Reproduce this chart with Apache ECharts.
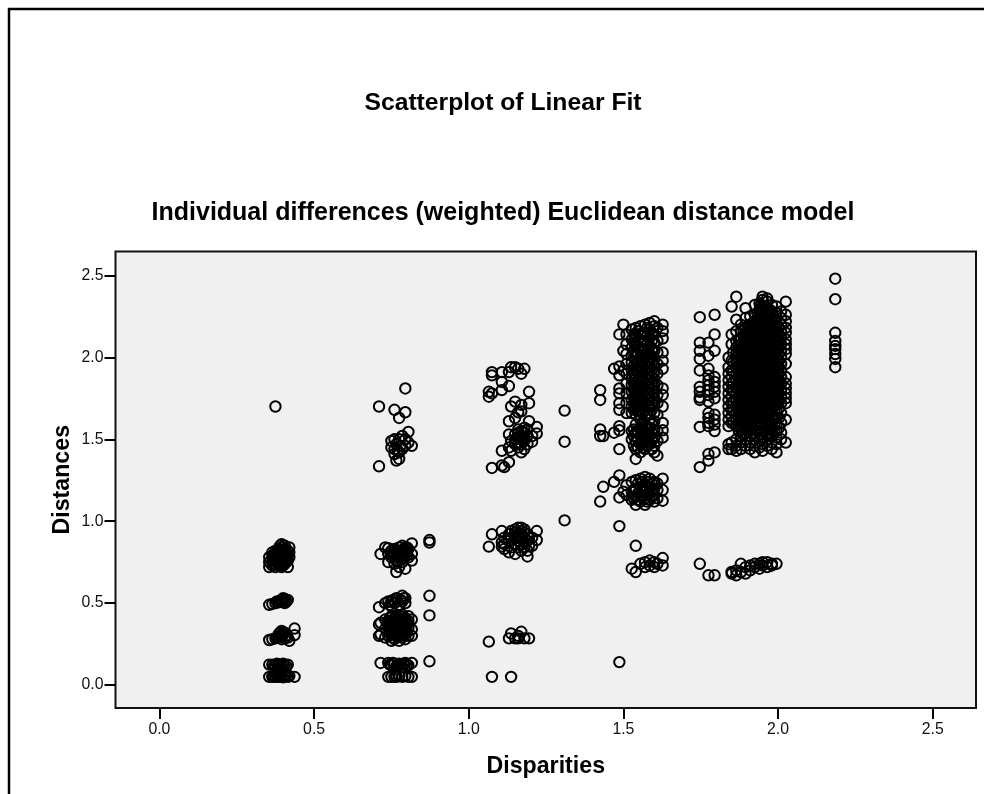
<!DOCTYPE html>
<html><head><meta charset="utf-8">
<script src="https://cdn.jsdelivr.net/npm/echarts@6/dist/echarts.min.js"></script>
<style>html,body{margin:0;padding:0;background:#fff}#c{width:984px;height:794px}</style>
</head><body><div id="c"></div>
<script>
const chartTitle = 'Scatterplot of Linear Fit';
const chartSubtitle = 'Individual differences (weighted) Euclidean distance model';
const xName = 'Disparities';
const yName = 'Distances';
const tickValues = [0, 0.5, 1, 1.5, 2, 2.5];

// each row: [disparity, [distances...]]
const groupA = [
 [0.355,[0.05,0.125,0.275,0.49,0.72,0.75,0.78]],
 [0.365,[0.05,0.125,0.28,0.495,0.73,0.76,0.79,0.81]],
 [0.375,[0.05,0.12,0.285,0.50,0.72,0.75,0.78,0.80,0.82,1.70]],
 [0.385,[0.05,0.125,0.29,0.31,0.505,0.73,0.77,0.80,0.83]],
 [0.395,[0.05,0.12,0.28,0.30,0.33,0.51,0.52,0.72,0.75,0.78,0.81,0.84,0.86]],
 [0.405,[0.055,0.125,0.285,0.32,0.50,0.525,0.74,0.77,0.80,0.83,0.85]],
 [0.415,[0.05,0.125,0.29,0.52,0.72,0.76,0.79,0.82]],
 [0.42,[0.055,0.27,0.78,0.81,0.84]],
 [0.437,[0.05,0.305,0.345]],
 [0.37,[0.052,0.118,0.74,0.77,0.795]],
 [0.38,[0.055,0.13,0.29,0.51,0.745,0.765,0.81]],
 [0.39,[0.058,0.115,0.30,0.32,0.515,0.74,0.76,0.79,0.82,0.85]],
 [0.40,[0.047,0.13,0.31,0.53,0.73,0.76,0.795,0.825]],
 [0.41,[0.06,0.115,0.30,0.51,0.75,0.78,0.81]]
];
const groupB = [
 [0.71,[0.30,0.37,0.475,1.335,1.70]],
 [0.715,[0.135,0.31,0.38,0.80]],
 [0.73,[0.29,0.345,0.40,0.50,0.84]],
 [0.74,[0.135,0.05,0.30,0.36,0.39,0.51,0.75,0.80,0.835]],
 [0.75,[0.05,0.12,0.27,0.31,0.35,0.38,0.42,0.48,0.51,0.78,0.82,1.45,1.49]],
 [0.76,[0.05,0.13,0.28,0.33,0.37,0.40,0.50,0.74,0.80,0.83,1.41,1.44,1.50,1.68]],
 [0.766,[0.05,0.115,0.30,0.35,0.39,0.42,0.53,0.69,0.76,0.81,1.37,1.47]],
 [0.775,[0.055,0.13,0.27,0.32,0.36,0.41,0.49,0.72,0.78,0.84,1.38,1.42,1.50,1.63]],
 [0.785,[0.05,0.11,0.29,0.34,0.38,0.43,0.51,0.545,0.75,0.80,0.85,1.44,1.52]],
 [0.795,[0.055,0.135,0.28,0.33,0.37,0.41,0.50,0.53,0.71,0.82,0.84,1.46,1.50,1.665,1.81]],
 [0.805,[0.05,0.12,0.30,0.35,0.39,0.42,0.78,0.83,1.545,1.48]],
 [0.816,[0.05,0.135,0.30,0.34,0.40,0.76,0.80,0.865,1.46]],
 [0.873,[0.145,0.425,0.545,0.87,0.885]],
 [0.745,[0.125,0.33,0.37,0.41,0.49]],
 [0.755,[0.135,0.29,0.32,0.36,0.40,0.52,0.79,0.81]],
 [0.77,[0.12,0.31,0.34,0.38,0.40,0.82,0.80,1.43]],
 [0.78,[0.125,0.30,0.33,0.35,0.39,0.42,0.52,0.79,0.82,1.46]],
 [0.79,[0.13,0.31,0.35,0.37,0.40,0.53,0.78,0.81,0.83]],
 [0.80,[0.125,0.32,0.36,0.38,0.79,0.81,0.84]]
];
const groupC = [
 [1.065,[0.265,0.845,1.79,1.76]],
 [1.075,[0.05,0.92,1.325,1.78,1.89,1.91]],
 [1.107,[0.845,0.87,0.94,1.34,1.43,1.80,1.85,1.91]],
 [1.115,[0.83,0.86,0.90,1.33]],
 [1.13,[0.285,0.81,0.88,0.92,1.36,1.45,1.53,1.61,1.825,1.91]],
 [1.137,[0.05,0.315,0.84,0.90,0.94,1.43,1.49,1.70,1.94]],
 [1.15,[0.285,0.80,0.86,0.90,0.93,0.95,1.47,1.50,1.53,1.63,1.73,1.94]],
 [1.16,[0.285,0.30,0.84,0.88,0.92,0.96,1.45,1.48,1.51,1.54,1.56,1.665,1.93]],
 [1.17,[0.325,0.82,0.86,0.89,0.91,0.94,0.96,1.42,1.47,1.50,1.52,1.55,1.67,1.71,1.90]],
 [1.18,[0.285,0.84,0.87,0.90,0.93,0.95,1.44,1.49,1.51,1.54,1.57,1.93]],
 [1.19,[0.785,0.82,0.88,0.92,1.47,1.52,1.56]],
 [1.195,[0.285,0.85,0.90,1.61,1.72,1.79]],
 [1.205,[0.85,0.90,1.485,1.52]],
 [1.22,[0.885,0.94,1.535,1.575]],
 [1.31,[1.005,1.485,1.675]]
];
const groupD = [
 [1.425,[1.12,1.56,1.74,1.80,1.52]],
 [1.435,[1.21,1.52]],
 [1.47,[1.24,1.54,1.93]],
 [1.487,[0.14,0.97,1.145,1.28,1.44,1.555,1.58,1.68,1.72,1.78,1.81,1.89,1.945,2.14]],
 [1.50,[1.18,1.92,2.04,2.20]],
 [1.51,[1.16,1.22,1.66,1.72,1.78,1.84,1.90,1.96,2.02,2.08,2.14]],
 [1.527,[0.71,1.13,1.18,1.24,1.50,1.55,1.66,1.70,1.74,1.79,1.83,1.87,1.92,1.97,2.01,2.06,2.11,2.17]],
 [1.54,[0.69,0.85,1.10,1.15,1.20,1.25,1.38,1.44,1.49,1.54,1.59,1.65,1.69,1.73,1.77,1.81,1.85,1.89,1.93,1.98,2.03,2.08,2.13,2.18]],
 [1.555,[0.74,1.12,1.16,1.21,1.26,1.42,1.47,1.52,1.57,1.62,1.67,1.71,1.75,1.79,1.83,1.87,1.91,1.95,1.99,2.04,2.09,2.14,2.19]],
 [1.57,[0.72,0.75,1.10,1.14,1.18,1.22,1.27,1.44,1.49,1.54,1.59,1.64,1.68,1.72,1.76,1.80,1.84,1.88,1.92,1.96,2.00,2.05,2.10,2.15,2.20]],
 [1.585,[0.73,0.76,1.13,1.17,1.21,1.26,1.47,1.52,1.57,1.62,1.66,1.70,1.74,1.78,1.82,1.86,1.90,1.94,1.98,2.02,2.07,2.12,2.17,2.21]],
 [1.60,[0.72,0.75,1.12,1.16,1.20,1.24,1.42,1.46,1.51,1.56,1.61,1.66,1.71,1.75,1.79,1.83,1.87,1.91,1.95,1.99,2.04,2.09,2.14,2.19,2.22]],
 [1.61,[0.74,1.14,1.19,1.23,1.40,1.49,1.55,1.65,1.72,1.77,1.83,1.90,1.96,2.03,2.10,2.18]],
 [1.627,[0.73,0.775,1.19,1.26,1.125,1.51,1.555,1.60,1.70,1.77,1.81,1.93,1.98,2.03,2.115,2.16,2.20]],
 [1.534,[1.14,1.19,1.46,1.52,1.56,1.68,1.72,1.76,1.80,1.84,1.90,1.95,2.00,2.04,2.09,2.14]],
 [1.547,[1.13,1.17,1.23,1.45,1.50,1.55,1.67,1.70,1.74,1.78,1.82,1.86,1.91,1.94,1.98,2.02,2.06,2.11,2.16]],
 [1.562,[1.15,1.19,1.24,1.45,1.50,1.55,1.60,1.66,1.69,1.73,1.77,1.81,1.85,1.89,1.93,1.97,2.01,2.05,2.10,2.15]],
 [1.577,[1.12,1.16,1.20,1.24,1.46,1.51,1.56,1.65,1.70,1.74,1.78,1.82,1.86,1.90,1.94,1.98,2.03,2.08,2.13,2.18]],
 [1.592,[1.15,1.19,1.23,1.44,1.49,1.54,1.59,1.68,1.72,1.76,1.80,1.84,1.88,1.92,1.96,2.00,2.05,2.10,2.15]]
];
const groupE = [
 [1.747,[0.74,1.33,1.575,1.74,1.755,1.79,1.82,1.92,1.99,2.04,2.09,2.245]],
 [1.775,[0.67,1.37,1.41,1.58,1.60,1.63,1.66,1.73,1.77,1.80,1.83,1.86,1.89,1.93,2.01,2.09]],
 [1.795,[0.67,1.42,1.55,1.59,1.62,1.65,1.75,1.79,1.82,1.85,1.88,2.04,2.14,2.26]],
 [2.185,[1.94,1.99,2.02,2.05,2.07,2.10,2.15,2.355,2.48]]
];
const groupF = [
 [1.84,[1.44,1.47,1.58,1.62,1.66,1.70,1.74,1.78,1.82,1.86,1.90,1.94,2.00]],
 [1.85,[0.68,0.69,1.44,1.48,1.60,1.64,1.68,1.72,1.76,1.80,1.84,1.88,1.92,1.98,2.08,2.14,2.31]],
 [1.865,[0.67,0.70,1.43,1.46,1.50,1.58,1.62,1.66,1.70,1.74,1.78,1.82,1.86,1.90,1.94,1.98,2.02,2.06,2.10,2.16,2.23,2.37]],
 [1.88,[0.69,0.74,1.44,1.48,1.52,1.56,1.60,1.64,1.68,1.72,1.76,1.80,1.84,1.88,1.92,1.96,2.00,2.04,2.08,2.12,2.16,2.20]],
 [1.895,[0.68,0.72,1.46,1.50,1.54,1.58,1.62,1.66,1.70,1.74,1.78,1.82,1.86,1.90,1.94,1.98,2.02,2.06,2.10,2.14,2.18,2.24,2.30]],
 [1.91,[0.70,0.73,1.44,1.48,1.52,1.56,1.60,1.64,1.68,1.72,1.76,1.80,1.84,1.88,1.92,1.96,2.00,2.04,2.08,2.12,2.16,2.20,2.25]],
 [1.925,[0.72,0.74,1.42,1.46,1.50,1.54,1.58,1.62,1.66,1.70,1.74,1.78,1.82,1.86,1.90,1.94,1.98,2.02,2.06,2.10,2.14,2.18,2.22,2.26,2.32]],
 [1.94,[0.71,0.74,1.45,1.49,1.53,1.57,1.61,1.65,1.69,1.73,1.77,1.81,1.85,1.89,1.93,1.97,2.01,2.05,2.09,2.13,2.17,2.21,2.25,2.29,2.33]],
 [1.95,[0.73,0.75,1.43,1.47,1.51,1.55,1.59,1.63,1.67,1.71,1.75,1.79,1.83,1.87,1.91,1.95,1.99,2.03,2.07,2.11,2.15,2.19,2.23,2.27,2.31,2.35,2.37]],
 [1.965,[0.72,0.75,1.46,1.50,1.54,1.58,1.62,1.66,1.70,1.74,1.78,1.82,1.86,1.90,1.94,1.98,2.02,2.06,2.10,2.14,2.18,2.22,2.26,2.30,2.34,2.36]],
 [1.98,[0.73,0.74,1.44,1.48,1.52,1.56,1.60,1.64,1.68,1.72,1.76,1.80,1.84,1.88,1.92,1.96,2.00,2.04,2.08,2.12,2.16,2.20,2.24,2.28,2.32]],
 [1.995,[0.74,1.42,1.47,1.51,1.55,1.59,1.63,1.67,1.71,1.75,1.79,1.83,1.87,1.91,1.95,1.99,2.03,2.07,2.11,2.15,2.19,2.23,2.27,2.31]],
 [2.01,[1.50,1.54,1.60,1.66,1.72,1.76,1.80,1.84,1.88,1.92,1.96,2.00,2.04,2.08,2.12,2.16,2.20,2.24,2.28]],
 [2.025,[1.48,1.62,1.72,1.75,1.78,1.81,1.84,1.88,1.96,2.02,2.05,2.08,2.11,2.15,2.18,2.22,2.26,2.34]]
];
const groupFdense = [
 [1.855,[1.61,1.67,1.73,1.79,1.85,1.91,1.97,2.03]],
 [1.873,[1.55,1.59,1.63,1.67,1.71,1.75,1.79,1.83,1.87,1.91,1.95,1.99,2.03,2.07,2.11]],
 [1.888,[1.53,1.57,1.61,1.65,1.69,1.73,1.77,1.81,1.85,1.89,1.93,1.97,2.01,2.05,2.09,2.13,2.17]],
 [1.903,[1.55,1.59,1.63,1.67,1.71,1.75,1.79,1.83,1.87,1.91,1.95,1.99,2.03,2.07,2.11,2.15,2.19]],
 [1.918,[1.53,1.57,1.61,1.65,1.69,1.73,1.77,1.81,1.85,1.89,1.93,1.97,2.01,2.05,2.09,2.13,2.17,2.21]],
 [1.933,[1.55,1.59,1.63,1.67,1.71,1.75,1.79,1.83,1.87,1.91,1.95,1.99,2.03,2.07,2.11,2.15,2.19,2.23,2.27]],
 [1.945,[1.53,1.60,1.64,1.68,1.72,1.76,1.80,1.84,1.88,1.92,1.96,2.00,2.04,2.08,2.12,2.16,2.20,2.24,2.28,2.32]],
 [1.958,[1.55,1.59,1.63,1.67,1.71,1.75,1.79,1.83,1.87,1.91,1.95,1.99,2.03,2.07,2.11,2.15,2.19,2.23,2.27,2.31]],
 [1.973,[1.53,1.57,1.61,1.65,1.69,1.73,1.77,1.81,1.85,1.89,1.93,1.97,2.01,2.05,2.09,2.13,2.17,2.21,2.25,2.29]],
 [1.988,[1.55,1.59,1.63,1.67,1.71,1.75,1.79,1.83,1.87,1.91,1.95,1.99,2.03,2.07,2.11,2.15,2.19,2.23]],
 [2.003,[1.57,1.63,1.69,1.74,1.78,1.82,1.86,1.90,1.94,1.98,2.02,2.06,2.10,2.14,2.18]]
];

const rows = [...groupA, ...groupB, ...groupC, ...groupD, ...groupE, ...groupF, ...groupFdense];
const points = rows.flatMap(([x, ys]) => ys.map(y => [x, y]));
const font = '"Liberation Sans", Arial, sans-serif';

const chart = echarts.init(document.getElementById('c'), null, {renderer: 'canvas'});
const axisCommon = {
  type: 'value',
  nameLocation: 'middle',
  nameMoveOverlap: false,
  nameTextStyle: {fontFamily: font, fontWeight: 'bold', fontSize: 23.2, color: '#000'},
  splitLine: {show: false},
  axisLine: {show: false, onZero: false},
  axisTick: {show: true, inside: false, length: 11, lineStyle: {color: '#000', width: 2}, customValues: tickValues}
};
const labelCommon = {show: true, color: '#111', fontFamily: font, fontSize: 15.8,
  customValues: tickValues, formatter: v => v.toFixed(1)};
chart.setOption({
  animation: false,
  backgroundColor: '#fff',
  title: [
    {text: chartTitle, left: 503, top: 91, padding: 0, textAlign: 'center',
     textStyle: {fontFamily: font, fontWeight: 'bold', fontSize: 24.7, color: '#000'}},
    {text: chartSubtitle, left: 503, top: 201, padding: 0, textAlign: 'center',
     textStyle: {fontFamily: font, fontWeight: 'bold', fontSize: 25, color: '#000'}}
  ],
  grid: {show: true, left: 115.5, right: 8, top: 251.5, bottom: 86, containLabel: false,
    backgroundColor: '#f0f0f0', borderColor: '#111', borderWidth: 2},
  xAxis: {...axisCommon, position: 'bottom', name: xName, nameGap: 47, min: -0.142, max: 2.64,
    axisLabel: {...labelCommon, margin: 14}},
  yAxis: {...axisCommon, position: 'left', name: yName, nameGap: 41, min: -0.14, max: 2.646,
    axisLabel: {...labelCommon, margin: 12}},
  series: [{
    type: 'scatter',
    data: points,
    symbol: 'circle',
    symbolSize: 10.4,
    itemStyle: {color: 'rgba(0,0,0,0)', borderColor: '#000', borderWidth: 2, opacity: 1},
    emphasis: {disabled: true}
  }],
  graphic: [
    {type: 'polyline', silent: true, z: 10,
     shape: {points: [[9, 794], [9, 9], [984, 9]]},
     style: {stroke: '#000', lineWidth: 2.5, fill: null}}
  ]
});
</script>
</body></html>
